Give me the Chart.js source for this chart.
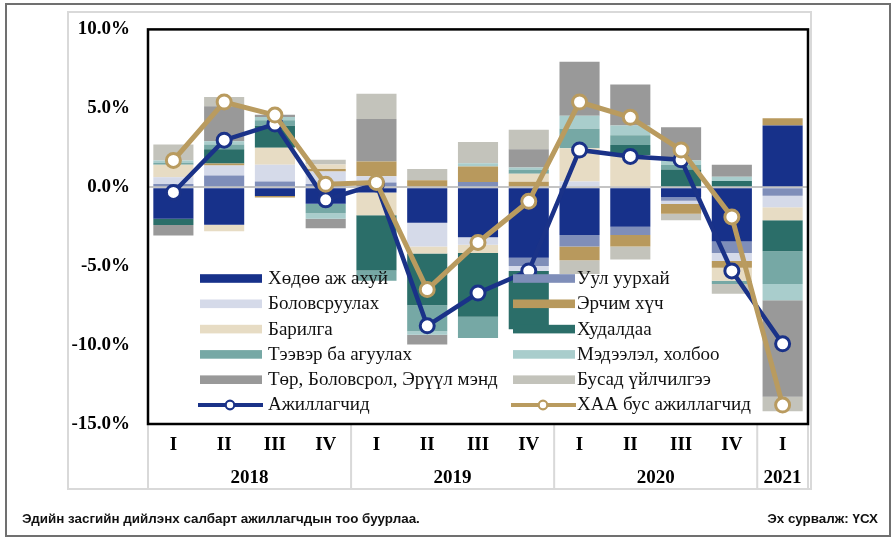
<!DOCTYPE html>
<html><head><meta charset="utf-8">
<script src="https://cdn.jsdelivr.net/npm/chart.js@4.4.1/dist/chart.umd.min.js"></script>
<style>
html,body{margin:0;padding:0;background:#fff;}
#wrap{position:relative;width:896px;height:542px;overflow:hidden;background:#fff;}
#frame{position:absolute;left:5px;top:3px;width:882px;height:530px;border:2px solid #707070;}
canvas{position:absolute;left:0;top:0;}
.foot{position:absolute;top:511px;line-height:17px;font:bold 13.4px "Liberation Sans",Arial,sans-serif;color:#111;white-space:nowrap;}
</style></head>
<body>
<div id="wrap">
<div id="frame"></div>
<canvas id="c" width="896" height="542"></canvas>
<div class="foot" style="left:22px">Эдийн засгийн дийлэнх салбарт ажиллагчдын тоо буурлаа.</div>
<div class="foot" style="right:18px">Эх сурвалж: ҮСХ</div>
</div>
<script>
// ---- data ----
const quarters = ["I","II","III","IV","I","II","III","IV","I","II","III","IV","I"];
const years = ["2018","2019","2020","2021"];
const yearSpans = [4,4,4,1];
const yTicks = [-15,-10,-5,0,5,10];

const agriculture   = [-2.0,-2.37,-0.55,-1.05,-0.33,-2.25,-3.17,-4.47,-3.02,-2.5,-0.64,-3.43,3.91];
const mining        = [0.2,0.74,0.37,0.2,0.3,0,0.33,-0.52,-0.73,-0.52,-0.21,-0.73,-0.54];
const manufacturing = [0.44,0.64,1.06,0.8,0.4,-1.5,-0.47,-0.31,0.37,0,-0.21,-0.52,-0.72];
const energy        = [0,0.12,-0.1,0.16,0.93,0.45,0.99,0.35,-0.87,-0.73,-0.62,-0.42,0.46];
const construction  = [0.79,-0.42,1.07,0.28,-1.45,-0.45,-0.53,0.5,2.1,2.05,0,-0.82,-0.83];
const trade         = [-0.4,0.9,1.4,0,-3.5,-3.27,-4.03,-3.7,0,0.62,1.12,0.39,-1.97];
const transport     = [0.12,0.31,0.35,-0.6,-0.64,-1.66,-1.35,0.25,1.24,0.62,0.3,-0.21,-2.07];
const ict           = [0.15,0.21,0.2,-0.35,0,-0.21,0.2,0.15,0.82,0.62,0.28,0.27,-1.03];
const publicSvc     = [-0.65,2.21,0.15,-0.6,2.7,-0.62,0,1.15,3.42,2.6,2.1,0.77,-6.11];
const otherSvc      = [1.0,0.58,0,0.3,1.6,0.7,1.34,1.25,-0.88,-0.83,-0.41,-0.62,-0.93];
const employed      = [-0.33,2.98,4.0,-0.8,0.2,-8.78,-6.7,-5.3,2.36,1.95,1.74,-5.3,-9.92];
const nonAgri       = [1.7,5.4,4.57,0.19,0.3,-6.48,-3.5,-0.89,5.4,4.43,2.36,-1.88,-13.8];

const NAVY = "#1a3288", GOLD = "#b99b5f";
function bar(label, data, color){
  return {type:"bar", label, data, backgroundColor:color, stack:"s", order:2,
          barPercentage:0.79, categoryPercentage:1.0, borderWidth:0};
}
const datasets = [
  bar("Хөдөө аж ахуй", agriculture, "#17318a"),
  bar("Уул уурхай", mining, "#7f8eb9"),
  bar("Боловсруулах", manufacturing, "#d5dae9"),
  bar("Эрчим хүч", energy, "#b8995d"),
  bar("Барилга", construction, "#e7dcc4"),
  bar("Худалдаа", trade, "#2b6e69"),
  bar("Тээвэр ба агуулах", transport, "#76a8a5"),
  bar("Мэдээлэл, холбоо", ict, "#a9cdcc"),
  bar("Төр, Боловсрол, Эрүүл мэнд", publicSvc, "#999999"),
  bar("Бусад үйлчилгээ", otherSvc, "#c3c3bb"),
  {type:"line", label:"Ажиллагчид", data:employed, borderColor:NAVY, borderWidth:4.5, stack:"l1", order:1,
   pointRadius:7, pointBackgroundColor:"#fff", pointBorderColor:NAVY, pointBorderWidth:3, tension:0},
  {type:"line", label:"ХАА бус ажиллагчид", data:nonAgri, borderColor:GOLD, borderWidth:5, stack:"l2", order:0,
   pointRadius:7, pointBackgroundColor:"#fff", pointBorderColor:GOLD, pointBorderWidth:3, tension:0}
];

const SERIF = '"Liberation Serif","Times New Roman",serif';

const decor = {
  id:"decor",
  beforeDatasetsDraw(chart){
    const ctx = chart.ctx, a = chart.chartArea, x = chart.scales.x;
    ctx.save();
    ctx.strokeStyle = "#d9d9d9"; ctx.lineWidth = 2;
    ctx.strokeRect(68, 12, 743, 477);
    const step = x.getPixelForValue(1) - x.getPixelForValue(0);
    let idx = 0;
    const bounds = [a.left];
    yearSpans.forEach(s => { idx += s; bounds.push(x.getPixelForValue(idx-1) + step/2); });
    ctx.beginPath();
    bounds.forEach(b => { ctx.moveTo(b, a.bottom); ctx.lineTo(b, 489); });
    ctx.stroke();
    ctx.fillStyle = "#000"; ctx.font = "bold 19px " + SERIF;
    ctx.textAlign = "center"; ctx.textBaseline = "middle";
    years.forEach((y,i) => { ctx.fillText(y, (bounds[i]+bounds[i+1])/2, 478); });
    ctx.strokeStyle = "#000"; ctx.lineWidth = 2.5;
    ctx.strokeRect(a.left, a.top, a.right - a.left, a.bottom - a.top);
    ctx.restore();
  },
  afterDraw(chart){
    const ctx = chart.ctx;
    ctx.save();
    ctx.font = "19px " + SERIF; ctx.textBaseline = "middle"; ctx.textAlign = "left"; ctx.fillStyle = "#111";
    chart.data.datasets.forEach((ds, i) => {
      const col = i % 2, row = Math.floor(i / 2);
      const sx = col === 0 ? 200 : 513, tx = col === 0 ? 268 : 577;
      const y = 278.5 + row * 25.3;
      if (ds.type === "bar") {
        ctx.fillStyle = ds.backgroundColor;
        ctx.fillRect(sx, y - 4.3, 62, 8.6);
      } else {
        ctx.strokeStyle = ds.borderColor; ctx.lineWidth = 4;
        ctx.beginPath(); ctx.moveTo(sx - 2, y); ctx.lineTo(sx + 63, y); ctx.stroke();
        ctx.beginPath(); ctx.arc(sx + 30, y, 4.3, 0, Math.PI*2);
        ctx.fillStyle = "#fff"; ctx.fill(); ctx.lineWidth = 2.2; ctx.stroke();
      }
      ctx.fillStyle = "#111";
      ctx.fillText(ds.label, tx, y + 0.5);
    });
    ctx.restore();
  }
};

new Chart(document.getElementById("c"), {
  data:{labels:quarters, datasets},
  options:{
    responsive:false, animation:false, devicePixelRatio:1,
    layout:{padding:{top:22, right:88, left:0, bottom:0}},
    plugins:{legend:{display:false}, tooltip:{enabled:false}},
    scales:{
      x:{stacked:true, grid:{display:false, drawTicks:false}, border:{display:false},
         ticks:{color:"#000", font:{family:SERIF, size:19, weight:"bold"}, padding:10, maxRotation:0, autoSkip:false},
         afterFit(s){ s.height = 118; }},
      y:{stacked:true, min:-15, max:10, border:{display:false},
         afterBuildTicks(s){ s.ticks = yTicks.map(v => ({value:v})); },
         grid:{drawTicks:false, lineWidth:2,
               color:c => (c.tick && c.tick.value === 0) ? "#c4c4c4" : "rgba(0,0,0,0)"},
         ticks:{color:"#000", font:{family:SERIF, size:19, weight:"bold"}, padding:18,
                callback:v => v.toFixed(1) + "%"},
         afterFit(s){ s.width = 148; }}
    }
  },
  plugins:[decor]
});
</script>
</body></html>
